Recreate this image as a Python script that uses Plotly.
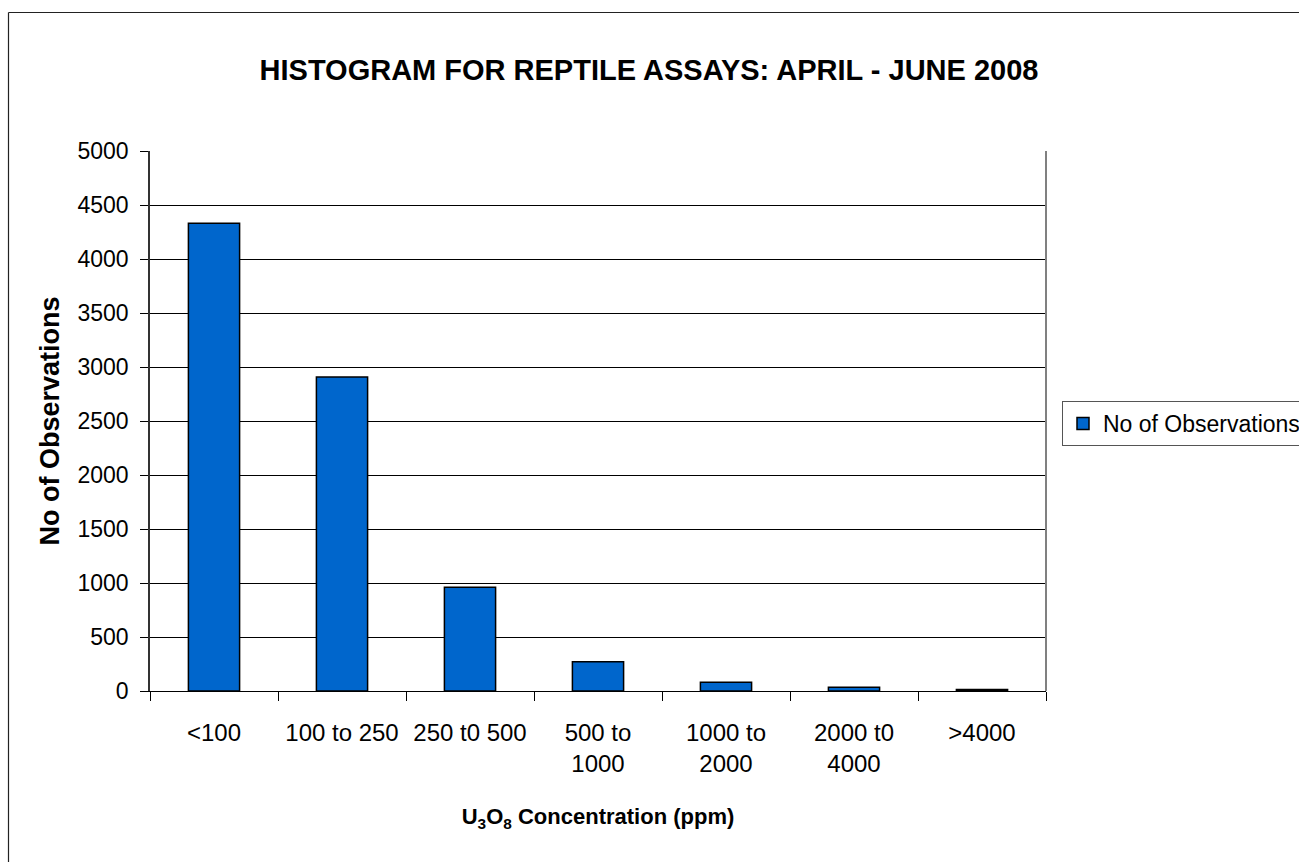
import plotly.graph_objects as go

# Assay bins and counts
categories = ["<100", "100 to 250", "250 t0 500", "500 to<br>1000",
              "1000 to<br>2000", "2000 t0<br>4000", ">4000"]
observations = [4330, 2907, 960, 271, 80, 35, 15]
y_ticks = [0, 500, 1000, 1500, 2000, 2500, 3000, 3500, 4000, 4500, 5000]

W, H = 1299, 862
ML, MR, MT, MB = 150, 253, 151, 171
PW, PH = W - ML - MR, H - MT - MB

FONT = "Arial, Liberation Sans, sans-serif"


def px_to_paper_x(px):
    return (px - ML) / PW


def px_to_paper_y(py):
    return (H - MB - py) / PH


fig = go.Figure()
fig.add_trace(go.Bar(
    x=categories,
    y=observations,
    name="No of Observations",
    marker=dict(color="#0066CC", line=dict(color="#000000", width=1.5)),
    showlegend=True,
))

fig.update_layout(
    width=W, height=H,
    margin=dict(l=ML, r=MR, t=MT, b=MB, autoexpand=False),
    paper_bgcolor="#FFFFFF",
    plot_bgcolor="#FFFFFF",
    bargap=0.6,
    font=dict(family=FONT, size=23, color="#000000"),
    title=dict(
        text="<b>HISTOGRAM FOR REPTILE ASSAYS: APRIL - JUNE 2008</b>",
        font=dict(family=FONT, size=29, color="#000000"),
        x=649 / W, xanchor="center", xref="container",
        y=1 - 70 / H, yanchor="middle", yref="container",
    ),
    xaxis=dict(
        type="category",
        tickson="boundaries",
        tickangle=0,
        ticks="outside", ticklen=9, tickcolor="#000000", tickwidth=1,
        showline=True, linecolor="#000000", linewidth=1,
        showgrid=False,
        tickfont=dict(family=FONT, size=24),
        ticklabelstandoff=20,
        title=dict(
            text="<b>U<sub>3</sub>O<sub>8</sub> Concentration (ppm)</b>",
            font=dict(family=FONT, size=22),
            standoff=32,
        ),
        automargin=False,
        fixedrange=True,
    ),
    yaxis=dict(
        range=[0, 5000],
        tickvals=y_ticks,
        ticks="outside", ticklen=8, tickcolor="#000000", tickwidth=1,
        showline=True, linecolor="#333333", linewidth=1.5,
        showgrid=True, gridcolor="#000000", gridwidth=1,
        zeroline=False,
        tickfont=dict(family=FONT, size=23),
        ticklabelstandoff=7,
        title=dict(
            text="<b>No of Observations</b>",
            font=dict(family=FONT, size=27),
            standoff=10,
        ),
        automargin=False,
        fixedrange=True,
    ),
    legend=dict(
        x=px_to_paper_x(1062), y=px_to_paper_y(401),
        xanchor="left", yanchor="top",
        bgcolor="#FFFFFF",
        bordercolor="#555555", borderwidth=1,
        font=dict(family=FONT, size=23),
    ),
    shapes=[
        # right edge of the plot area
        dict(type="line", xref="paper", yref="paper",
             x0=1, x1=1, y0=0, y1=1,
             line=dict(color="#808080", width=2)),
        # outer chart frame (left and top edges)
        dict(type="line", xref="paper", yref="paper",
             x0=px_to_paper_x(8.5), x1=px_to_paper_x(8.5),
             y0=px_to_paper_y(12.5), y1=px_to_paper_y(H + 5),
             line=dict(color="#222222", width=1.2)),
        dict(type="line", xref="paper", yref="paper",
             x0=px_to_paper_x(8.5), x1=px_to_paper_x(W + 5),
             y0=px_to_paper_y(12.5), y1=px_to_paper_y(12.5),
             line=dict(color="#222222", width=1.2)),
    ],
)

fig.write_html("out.html", config={"displayModeBar": False})
